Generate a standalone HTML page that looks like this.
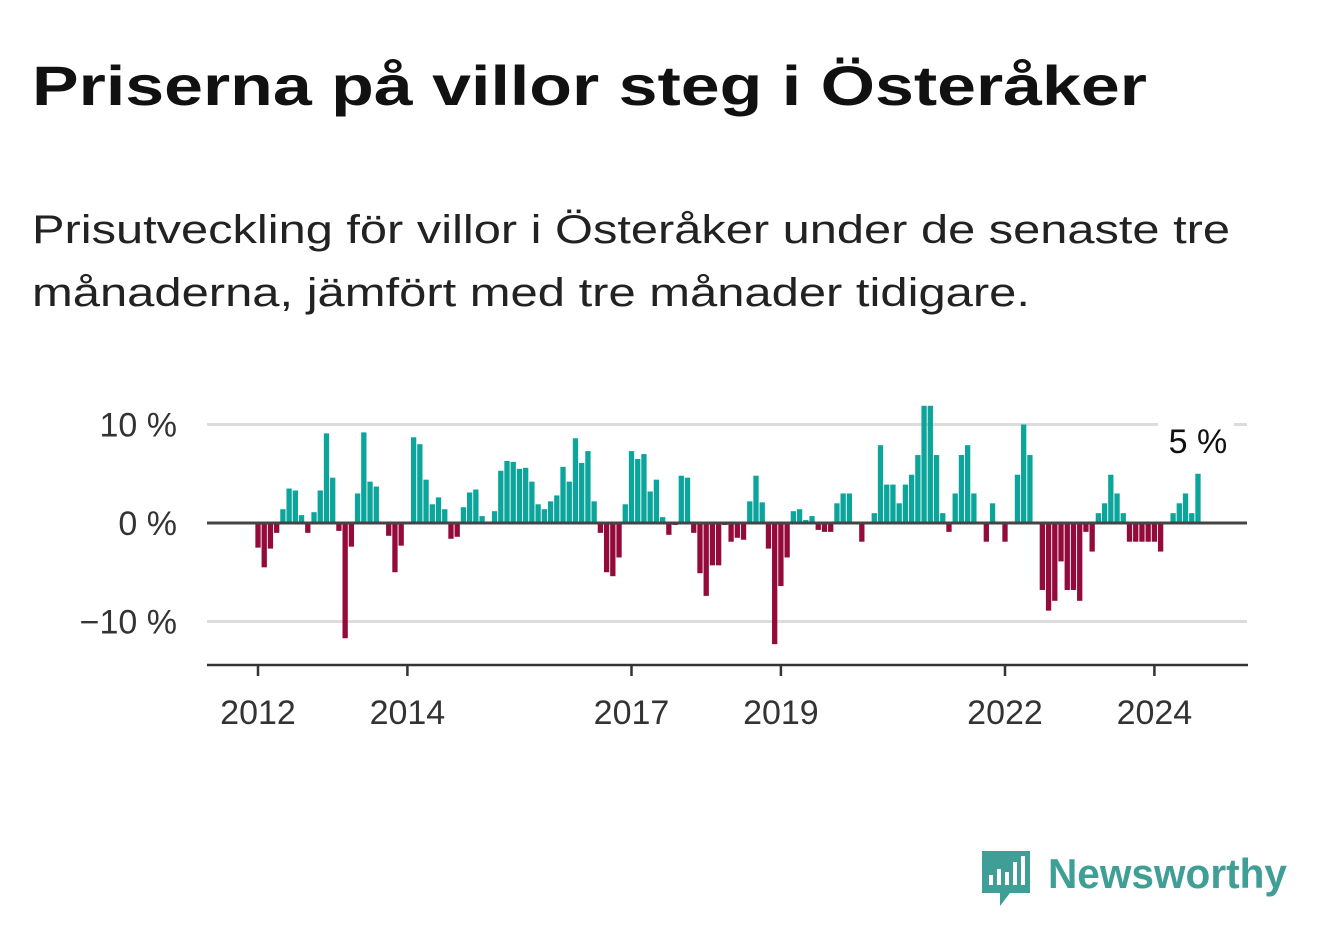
<!DOCTYPE html>
<html><head><meta charset="utf-8"><style>
html,body{margin:0;padding:0;background:#fff;}
svg{display:block;font-family:"Liberation Sans",sans-serif;}
</style></head><body>
<svg width="1322" height="939" viewBox="0 0 1322 939">
<text x="32" y="105" font-size="56" font-weight="bold" fill="#111" textLength="1115" lengthAdjust="spacingAndGlyphs">Priserna på villor steg i Österåker</text>
<text x="32" y="243" font-size="40" fill="#222" textLength="1198" lengthAdjust="spacingAndGlyphs">Prisutveckling för villor i Österåker under de senaste tre</text>
<text x="32" y="306" font-size="40" fill="#222" textLength="998" lengthAdjust="spacingAndGlyphs">månaderna, jämfört med tre månader tidigare.</text>
<g id="grid"></g>
<g id="bars"></g>
<g id="axes"></g>
<g>
<path d="M982 851 h48 v42 h-20 l-10 13 v-13 h-18 z" fill="#3f9f96"/>
<rect x="989" y="875" width="4" height="10" fill="#fff"/><rect x="997" y="869" width="4" height="16" fill="#fff"/><rect x="1005" y="872" width="4" height="13" fill="#fff"/><rect x="1013" y="862" width="4" height="23" fill="#fff"/><rect x="1021" y="856" width="4" height="29" fill="#fff"/>
<text x="1048" y="888" font-size="42" font-weight="bold" fill="#3f9f96" textLength="239" lengthAdjust="spacingAndGlyphs">Newsworthy</text>
</g>
</svg>
<script>
const startYear = 2012;
const values = [-2.5,-4.5,-2.6,-1.0,1.4,3.5,3.3,0.8,-1.0,1.1,3.3,9.1,4.6,-0.8,-11.7,-2.4,3.0,9.2,4.2,3.7,0,-1.3,-5.0,-2.3,0,8.7,8.0,4.4,1.9,2.6,1.4,-1.6,-1.4,1.6,3.1,3.4,0.7,0,1.2,5.3,
6.3,6.2,5.5,5.6,4.2,1.9,1.4,2.2,2.8,5.7,4.2,8.6,6.1,7.3,2.2,-1.0,-5.0,-5.4,-3.5,1.9,7.3,6.5,7.0,3.2,4.4,0.6,-1.2,-0.2,4.8,4.6,-1.0,-5.1,-7.4,-4.3,-4.3,-0.2,-1.9,-1.5,-1.7,2.2,
4.8,2.1,-2.6,-12.3,-6.4,-3.5,1.2,1.4,0.3,0.7,-0.7,-0.9,-0.9,2.0,3.0,3.0,0,-1.9,0,1.0,7.9,3.9,3.9,2.0,3.9,4.9,6.9,11.9,11.9,6.9,1.0,-0.9,3.0,6.9,7.9,3.0,0,-1.9,2.0,
0,-1.9,0,4.9,10.0,6.9,0,-6.8,-8.9,-7.9,-3.9,-6.8,-6.8,-7.9,-0.9,-2.9,1.0,2.0,4.9,3.0,1.0,-1.9,-1.9,-1.9,-1.9,-1.9,-2.9,0,1.0,2.0,3.0,1.0,5];
const yTicks = [10,0,-10];
const yTickLabels = ["10 %","0 %","\u221210 %"];
const xTickYears = [2012,2014,2017,2019,2022,2024];
const lastLabel = "5 %";

const NS="http://www.w3.org/2000/svg";
const x0=258, pxMonth=6.225, yZero=523, pxPct=9.85;
const xScale = i => x0 + i*pxMonth;
const yScale = v => yZero - v*pxPct;
function mk(tag, attrs, parent){const e=document.createElementNS(NS,tag);for(const k in attrs)e.setAttribute(k,attrs[k]);parent.appendChild(e);return e;}
const grid=document.getElementById('grid'), bars=document.getElementById('bars'), axes=document.getElementById('axes');
yTicks.forEach((t,k)=>{
  if(t!==0){const l=mk('line',{x1:207,x2:1247,y1:yScale(t),y2:yScale(t),stroke:'#dcdcdc','stroke-width':3},grid);
  
  }
  const tx=mk('text',{x:177,y:yScale(t)+12,'text-anchor':'end','font-size':34,fill:'#333'},axes);
  tx.textContent=yTickLabels[k];
  
  
});
const bw=5.3;
values.forEach((v,i)=>{
  if(v===0)return;
  const y=Math.min(yScale(v),yZero), h=Math.abs(yScale(v)-yZero);
  const r=mk('rect',{x:xScale(i)-bw/2,y:y,width:bw,height:h,fill:v>0?'#0ba59b':'#930a3b'},bars);
  
  
});
const zl=mk('line',{x1:207,x2:1247,y1:yZero,y2:yZero,stroke:'#444','stroke-width':3},axes);


const xa=mk('line',{x1:207,x2:1248,y1:665,y2:665,stroke:'#333','stroke-width':2.5},axes);


xTickYears.forEach(yr=>{
  const x=xScale((yr-startYear)*12);
  const tk=mk('line',{x1:x,x2:x,y1:665,y2:676,stroke:'#333','stroke-width':2.5},axes);
  
  
  const tx=mk('text',{x:x,y:724,'text-anchor':'middle','font-size':34,fill:'#333'},axes);
  tx.textContent=String(yr);
  
  
});
const li=values.length-1;
const lx=xScale(li);
mk('rect',{x:lx-40,y:416,width:76,height:44,fill:'#fff'},axes);
const lt=mk('text',{x:lx,y:453,'text-anchor':'middle','font-size':34,fill:'#111'},axes);
lt.textContent=lastLabel;


</script>
</body></html>
